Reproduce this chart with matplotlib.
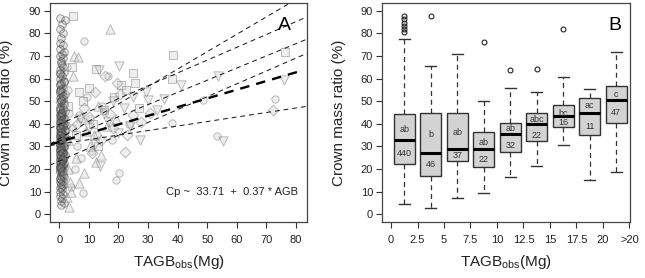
import matplotlib
matplotlib.use('Agg')
import matplotlib.pyplot as plt
import numpy as np

plt.rcParams['font.family'] = ['Liberation Sans', 'DejaVu Sans']
plt.rcParams['mathtext.fontset'] = 'custom'
plt.rcParams['mathtext.rm'] = 'Liberation Sans'
plt.rcParams['mathtext.it'] = 'Liberation Sans:italic'

# ---------------- Panel A data ----------------
col_x = [0.3, 1.8, 0.9, 0.2, 1.4, 0.6, 0.1, 1.1, 0.4, 1.6,
         0.8, 0.2, 1.3, 0.5, 0.9, 0.1, 1.7, 0.4, 1.0, 0.3,
         1.5, 0.6, 0.2, 1.2, 0.4, 0.9, 0.1, 1.9, 0.7, 0.3,
         1.1, 0.5, 0.2, 1.6, 0.8, 0.1, 1.3, 0.4, 2.0, 0.6,
         0.2, 1.0, 0.5, 1.7, 0.3, 0.9, 0.1, 1.4, 0.6, 2.2,
         0.4, 1.2, 0.1, 0.7, 1.8, 0.3, 1.0, 0.5, 1.5, 0.2,
         0.8, 0.1, 1.3, 0.4, 2.1, 0.6, 0.2, 1.1, 0.5, 1.6,
         0.3, 0.9, 0.1, 1.4, 0.6, 0.2, 1.9, 0.7, 0.4, 1.2,
         0.1, 0.8, 0.5, 1.5, 0.3, 1.0, 0.2, 1.7, 0.6, 0.4,
         1.3, 0.2, 0.9, 0.5, 1.6, 0.1, 0.7, 1.1, 0.3, 1.4,
         0.6, 0.2, 1.0, 0.4, 1.2, 0.3, 0.8, 0.5, 1.5, 0.7,
         0.5, 1.5, 0.7, 1.0, 0.2, 1.3, 0.9, 0.4, 1.1, 0.6]
col_y = [87, 86, 84, 82, 80, 78, 76, 75, 73, 72,
         71, 70, 69, 68, 66, 64, 63, 62, 61, 60,
         59, 58, 57, 56, 55, 54, 53.5, 53, 52, 51.5,
         51, 50, 49.5, 49, 48, 47.5, 47, 46, 45.5, 45,
         44.5, 44, 43, 42.5, 42, 41.5, 41, 40.5, 40, 39.5,
         39, 38.5, 38, 37.5, 37, 36.5, 36, 35.5, 35, 34.5,
         34, 33.5, 33, 32.5, 32, 31.5, 31, 30.5, 30, 29.5,
         29, 28.5, 28, 27.5, 27, 26.5, 26, 25.5, 25, 24.5,
         24, 23.5, 23, 22.5, 22, 21.5, 21, 20.5, 20, 19.5,
         19, 18.5, 18, 17, 16.5, 16, 15, 14.5, 14, 13,
         12, 11.5, 11, 10, 9, 8, 7, 6, 5, 4,
         44, 40, 36, 33, 30, 27, 24, 21, 46, 38]
col2_x = [0.7, 0.2, 1.2, 0.5, 1.6, 0.3, 0.9, 0.1, 1.4, 0.6,
          0.4, 1.1, 0.2, 1.8, 0.7, 0.3, 1.3, 0.5, 0.9, 0.1,
          1.5, 0.6, 0.2, 1.0, 0.4, 1.7, 0.8, 0.3, 1.2, 0.5,
          0.1, 0.9, 1.4, 0.4, 0.7, 0.2, 1.1, 0.6, 1.6, 0.3]
col2_y = [55.5, 54.5, 52.5, 50.5, 48.5, 46.5, 44.8, 43.5, 42.2, 41.2,
          40.2, 39.2, 38.2, 37.2, 36.2, 35.2, 34.2, 33.2, 32.2, 31.2,
          30.2, 29.2, 28.2, 27.2, 26.2, 25.2, 24.2, 23.2, 22.2, 21.2,
          20.2, 19.2, 17.5, 15.5, 13.5, 62.5, 65, 67, 58.5, 57.5]

circ_x = [8.5, 16.4, 72.9, 48.6, 38.2, 53.2, 20.1, 19.2, 8.1, 3.2, 4.5, 6.0, 7.2,
          10.5, 12.8, 2.8, 5.3, 14.5, 17.8, 23.5, 3.8, 6.5, 11.0, 9.4, 2.5]
circ_y = [76.6, 61.1, 50.9, 50.6, 40.5, 34.6, 18.3, 15.0, 9.2, 45.0, 38.0, 30.0, 25.0,
          42.0, 35.0, 55.0, 20.0, 48.0, 33.0, 40.0, 12.0, 44.0, 28.0, 52.0, 65.0]

sq_x = [4.7, 38.5, 76.2, 4.3, 12.5, 24.8, 38.0, 25.6, 6.8, 9.9, 21.0, 8.0, 3.0,
        15.0, 18.5, 22.5, 11.5, 5.5, 27.0, 13.0]
sq_y = [87.7, 70.4, 71.6, 65.3, 64.2, 62.6, 60.0, 58.0, 54.3, 55.8, 57.0, 50.0, 48.0,
        46.0, 52.0, 55.0, 40.0, 35.0, 47.0, 30.0]

tu_x = [17.1, 5.0, 6.2, 4.6, 3.0, 6.8, 3.4, 2.5, 4.0, 12.5, 14.0, 16.0, 7.5, 9.0,
        10.5, 2.8, 5.8, 8.2, 13.2, 19.0, 3.6, 11.8]
tu_y = [82.2, 70.0, 69.5, 61.0, 20.0, 13.8, 3.0, 7.5, 10.0, 23.0, 26.0, 39.0, 43.0, 37.0,
        30.0, 33.0, 25.0, 18.0, 48.0, 42.0, 14.0, 35.0]

td_x = [13.5, 20.2, 53.5, 41.0, 29.2, 75.8, 55.2, 27.4, 13.7, 18.0, 22.0, 15.0, 25.0,
        30.0, 10.0, 16.5, 24.0, 20.0, 12.0, 33.0, 7.0, 35.5]
td_y = [64.0, 65.7, 61.3, 57.1, 54.0, 59.6, 32.4, 32.7, 21.1, 50.0, 47.0, 45.0, 52.0,
        50.5, 38.0, 41.0, 39.0, 36.0, 31.0, 46.0, 42.0, 51.0]

dm_x = [72.3, 22.2, 15.5, 12.0, 18.0, 25.0, 10.0, 20.5, 27.5, 14.0, 8.5, 17.0, 23.0,
        30.5, 6.0, 11.0, 19.5]
dm_y = [46.0, 27.7, 61.0, 54.0, 38.0, 44.0, 43.0, 53.0, 41.0, 33.0, 47.0, 44.5, 35.0,
        45.0, 40.0, 27.0, 58.0]

# group regression lines (intercept, slope) and overall fit
grp_b0 = [33.4, 39.8, 32.3, 23.5, 31.0]
grp_b1 = [0.771, 0.568, 0.54, 0.57, 0.20]
fit_b0 = 32.0
fit_b1 = 0.385
fit_xmax = 82.0
equation = "Cp ~  33.71  +  0.37 * AGB"

# ---------------- Panel B data ----------------
bin_labels = ['0', '2.5', '5', '7.5', '10', '12.5', '15', '17.5', '20', '>20']
q1 = [22.1, 16.9, 23.3, 20.9, 27.4, 32.3, 38.5, 35.1, 40.5]
med = [32.8, 27.0, 28.9, 28.9, 35.4, 39.9, 43.3, 44.6, 50.5]
q3 = [44.2, 44.7, 44.9, 36.5, 40.5, 44.6, 48.5, 51.3, 56.9]
whislo = [4.4, 2.7, 7.3, 9.3, 16.6, 21.5, 30.6, 15.2, 18.6]
whishi = [77.4, 65.6, 70.7, 50.2, 56.0, 54.2, 60.8, 55.3, 71.6]
fliers = [[80.7, 81.8, 83.3, 84.7, 86.2, 87.7], [87.7], [], [76.2], [63.9], [64.4],
          [82.0], [], []]
letters = ['ab', 'b', 'ab', 'ab', 'ab', 'abc', 'bc', 'ac', 'c']
letter_y = [37.3, 35.1, 36.2, 31.8, 37.9, 41.7, 44.6, 47.9, 53.0]
counts = ['440', '46', '37', '22', '32', '22', '16', '11', '47']
count_y = [27.0, 22.1, 25.8, 24.3, 30.3, 34.7, 40.5, 39.0, 45.1]

# ---------------- Figure ----------------
fig = plt.figure(figsize=(6.45, 2.78), dpi=100)
axA = fig.add_axes([50/645, 56/278, 257/645, 219/278])
axB = fig.add_axes([382/645, 56/278, 248/645, 219/278])

fc = (0.82, 0.82, 0.82, 0.35)
ec = (0.35, 0.35, 0.35, 0.38)
fc_col = (0.55, 0.55, 0.55, 0.2)
ec_col = (0.2, 0.2, 0.2, 0.45)
axA.scatter(col_x, col_y, s=30, marker='o', facecolors=fc_col, edgecolors=ec_col, linewidths=0.7)
axA.scatter(col2_x, col2_y, s=30, marker='o', facecolors=fc_col, edgecolors=ec_col, linewidths=0.7)
axA.scatter(circ_x, circ_y, s=28, marker='o', facecolors=fc, edgecolors=ec, linewidths=0.7)
axA.scatter(sq_x, sq_y, s=26, marker='s', facecolors=fc, edgecolors=ec, linewidths=0.7)
axA.scatter(tu_x, tu_y, s=45, marker='^', facecolors=fc, edgecolors=ec, linewidths=0.7)
axA.scatter(td_x, td_y, s=45, marker='v', facecolors=fc, edgecolors=ec, linewidths=0.7)
axA.scatter(dm_x, dm_y, s=30, marker='D', facecolors=fc, edgecolors=ec, linewidths=0.7)

xl = (-3.14, 83.7)
xx = np.linspace(xl[0], xl[1], 50)
for b0, b1 in zip(grp_b0, grp_b1):
    axA.plot(xx, b0 + b1 * xx, color='#111111', lw=0.7, dashes=(5, 4))
xf = np.linspace(xl[0], fit_xmax, 50)
axA.plot(xf, fit_b0 + fit_b1 * xf, color='black', lw=1.7, dashes=(4, 3))

axA.set_xlim(*xl)
axA.set_ylim(-3.5, 93.5)
axA.set_xticks(np.arange(0, 81, 10))
axA.set_yticks(np.arange(0, 91, 10))
axA.text(80.5, 10, equation, ha='right', va='center', fontsize=8, color='#222222')
axA.text(76.2, 83.7, 'A', ha='center', va='center', fontsize=14, color='black')

# Panel B boxplot
stats = []
for i in range(len(med)):
    stats.append(dict(med=med[i], q1=q1[i], q3=q3[i], whislo=whislo[i],
                      whishi=whishi[i], fliers=fliers[i]))
pos = np.arange(1, len(med) + 1)
axB.bxp(stats, positions=pos, widths=0.8, capwidths=0.4, patch_artist=True,
        boxprops=dict(facecolor='#d3d3d3', edgecolor='#333333', linewidth=1.0),
        whiskerprops=dict(color='#333333', linewidth=0.9, linestyle=(0, (4, 3))),
        capprops=dict(color='#333333', linewidth=1.0),
        medianprops=dict(color='black', linewidth=2.2),
        flierprops=dict(marker='o', markerfacecolor='none', markeredgecolor='#222222',
                        markersize=3.5, markeredgewidth=0.8))
for p, t, y in zip(pos, letters, letter_y):
    axB.text(p, y, t, ha='center', va='center', fontsize=6.5, color='#333333')
for p, t, y in zip(pos, counts, count_y):
    axB.text(p, y, t, ha='center', va='center', fontsize=6.5, color='#333333')
axB.set_xlim(0.16, 9.52)
axB.set_ylim(-3.5, 93.5)
axB.set_xticks(np.arange(len(bin_labels)) + 0.5)
axB.set_xticklabels(bin_labels)
axB.set_yticks(np.arange(0, 91, 10))
axB.text(8.95, 83.7, 'B', ha='center', va='center', fontsize=14, color='black')

for ax in (axA, axB):
    for sp in ax.spines.values():
        sp.set_color('#444444')
        sp.set_linewidth(0.9)
    ax.tick_params(axis='both', direction='out', length=4, width=0.8, color='#333333',
                   labelsize=8, labelcolor='#222222')
    ax.tick_params(axis='y', pad=2.5)
    ax.tick_params(axis='x', pad=5.5)
    ax.set_ylabel('Crown mass ratio (%)', fontsize=11, color='#222222')
    ax.set_xlabel(r'TAGB$_{\rm obs}$(Mg)', fontsize=11, color='#222222')
    ax.yaxis.set_label_coords(-0.145, 0.5)
    ax.xaxis.set_label_coords(0.5, -0.14)

fig.savefig('out.png', dpi=100)
